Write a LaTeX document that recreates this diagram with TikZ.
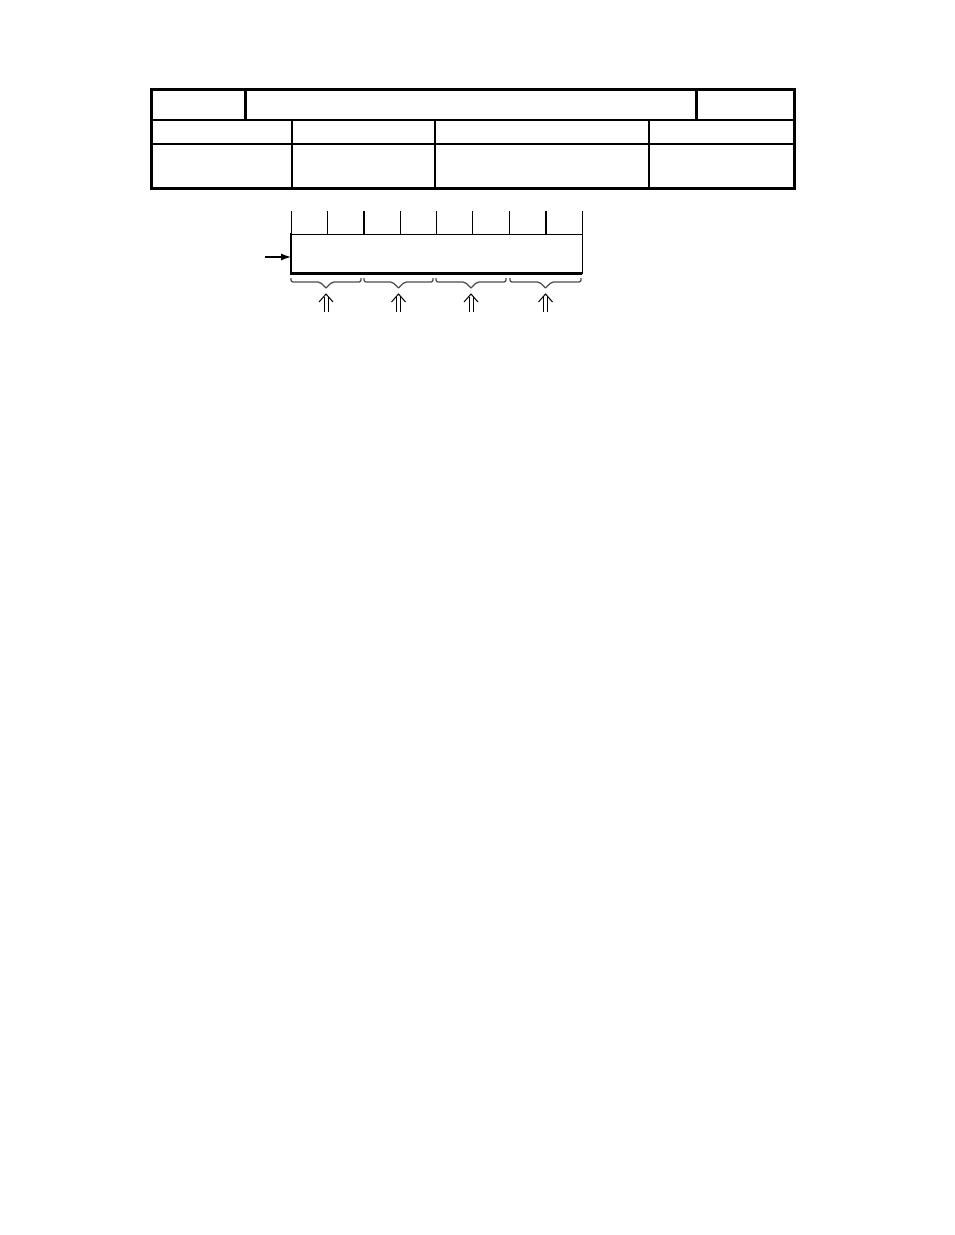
\documentclass[tikz,border=0pt]{standalone}
\usetikzlibrary{arrows.meta}
\begin{document}
\begin{tikzpicture}[x=1pt,y=-1pt,
  thickline/.style={line width=3pt},
  midline/.style={line width=2.2pt},
  thinline/.style={line width=1.4pt},
  tickline/.style={line width=1pt},
  tickbold/.style={line width=2pt},
  bracestyle/.style={line width=1.3pt,draw=black!70,rounded corners=2pt},
  regbox/.style={draw,line width=1pt,minimum width=291pt,minimum height=39pt,inner sep=0pt,anchor=north west},
  dblarrow/.style={line width=1pt}
]
\useasboundingbox (0,0) rectangle (954,1235);
% table
\node[draw,thickline,minimum width=643pt,minimum height=99pt,inner sep=0pt,anchor=north west] (tab) at (150,88) {};
\draw[midline] (150,120) -- (793,120);
\draw[thinline] (150,144) -- (793,144);
\draw[thickline] (245,88) -- (245,120);
\draw[thickline] (696,88) -- (696,120);
\draw[thinline] (292,120) -- (292,187);
\draw[thinline] (435,120) -- (435,187);
\draw[thinline] (649,120) -- (649,187);
% register
\node[regbox] (reg) at (291,234) {};
\draw[line width=2.4pt] (291,233) -- (291,273.5) -- (582,273.5);
\foreach \i in {0,...,8}{
  \pgfmathsetmacro\xx{291+\i*36.375}
  \ifnum\i=2 \draw[tickbold] (\xx,211) -- (\xx,234);
  \else\ifnum\i=7 \draw[tickbold] (\xx,211) -- (\xx,234);
  \else \draw[tickline] (\xx,211) -- (\xx,234);\fi\fi
}
\coordinate (in) at (265,257);
\draw[-{Latex[length=10pt,width=7pt]},line width=1.2pt] (in) -- (reg.west |- in);
% braces and double arrows
\foreach \a/\b in {291/361,364/433,436/506,510/581}{
  \pgfmathsetmacro\m{(\a+\b)/2}
  \draw[bracestyle] (\a,278) -- (\a,282) -- (\m-6,282) -- (\m,288);
  \draw[bracestyle] (\m,288) -- (\m+6,282) -- (\b,282) -- (\b,278);
  \draw[dblarrow] (\m-2,297) -- (\m-2,312);
  \draw[dblarrow] (\m+2,297) -- (\m+2,312);
  \draw[dblarrow] (\m-7,302) -- (\m,294) -- (\m+7,302);
}
\end{tikzpicture}
\end{document}
